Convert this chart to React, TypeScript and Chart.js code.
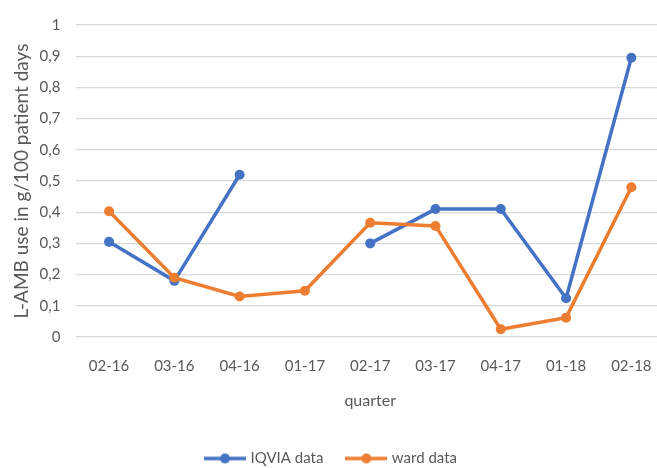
import { useEffect, useRef } from "react";
import Chart from "chart.js/auto";

const categories = ["02-16", "03-16", "04-16", "01-17", "02-17", "03-17", "04-17", "01-18", "02-18"];
const iqviaValues: (number | null)[] = [0.305, 0.18, 0.52, null, 0.30, 0.41, 0.41, 0.124, 0.895];
const wardValues: number[] = [0.403, 0.19, 0.13, 0.148, 0.366, 0.356, 0.025, 0.062, 0.48];
const yTickValues = [0, 0.1, 0.2, 0.3, 0.4, 0.5, 0.6, 0.7, 0.8, 0.9, 1];
const yTickLabels = ["0", "0,1", "0,2", "0,3", "0,4", "0,5", "0,6", "0,7", "0,8", "0,9", "1"];
const seriesNames = ["IQVIA data", "ward data"];

const BLUE = "#4472C4";
const ORANGE = "#ED7D31";
const TEXT = "#595959";
const GRID = "#d9d9d9";
const FONT = "Lato, 'Open Sans', sans-serif";

function makeIcon(color: string): HTMLCanvasElement {
  const c = document.createElement("canvas");
  c.width = 42;
  c.height = 12;
  const ctx = c.getContext("2d")!;
  ctx.strokeStyle = color;
  ctx.lineWidth = 3.5;
  ctx.beginPath();
  ctx.moveTo(0, 6);
  ctx.lineTo(42, 6);
  ctx.stroke();
  ctx.fillStyle = color;
  ctx.beginPath();
  ctx.arc(21, 6, 5, 0, Math.PI * 2);
  ctx.fill();
  return c;
}

export default function App() {
  const ref = useRef<HTMLCanvasElement>(null);

  useEffect(() => {
    if (!ref.current) return;
    const icons = [makeIcon(BLUE), makeIcon(ORANGE)];
    const chart = new Chart(ref.current, {
      type: "line",
      data: {
        labels: categories,
        datasets: [
          {
            label: seriesNames[0],
            data: iqviaValues,
            borderColor: BLUE,
            backgroundColor: BLUE,
            borderWidth: 3.5,
            pointRadius: 5,
            pointBorderWidth: 0,
            pointBackgroundColor: BLUE,
            spanGaps: false,
            tension: 0,
            order: 1,
          },
          {
            label: seriesNames[1],
            data: wardValues,
            borderColor: ORANGE,
            backgroundColor: ORANGE,
            borderWidth: 3.5,
            pointRadius: 5,
            pointBorderWidth: 0,
            pointBackgroundColor: ORANGE,
            tension: 0,
            order: 0,
          },
        ],
      },
      options: {
        animation: false,
        responsive: false,
        layout: { padding: { left: 0, right: 8, top: 22, bottom: 4 } },
        plugins: {
          tooltip: { enabled: false },
          legend: {
            position: "bottom",
            labels: {
              usePointStyle: true,
              pointStyleWidth: 36,
              padding: 25,
              color: TEXT,
              font: { family: FONT, size: 15 },
              generateLabels: () =>
                seriesNames.map((name, i) => ({
                  text: name,
                  pointStyle: icons[i] as any,
                  fillStyle: i === 0 ? BLUE : ORANGE,
                  strokeStyle: i === 0 ? BLUE : ORANGE,
                  lineWidth: 0,
                  hidden: false,
                  datasetIndex: i,
                  fontColor: TEXT,
                })),
            },
          },
        },
        scales: {
          x: {
            offset: true,
            grid: { display: false, drawTicks: false },
            border: { display: false },
            ticks: { color: TEXT, font: { family: FONT, size: 15 }, padding: 20, maxRotation: 0 },
            title: {
              display: true,
              text: "quarter",
              color: TEXT,
              font: { family: FONT, size: 16 },
              padding: { top: 4, bottom: 16 },
            },
            afterFit: (scale: any) => {
              scale.height = 89;
            },
          },
          y: {
            min: 0,
            max: 1,
            grid: { color: GRID, lineWidth: 1.3, drawTicks: false },
            border: { display: false },
            afterBuildTicks: (scale: any) => {
              scale.ticks = yTickValues.map((v) => ({ value: v }));
            },
            ticks: {
              color: TEXT,
              font: { family: FONT, size: 15 },
              padding: 16,
              callback: (value: any) => {
                const idx = yTickValues.findIndex((v) => Math.abs(v - Number(value)) < 1e-6);
                return idx >= 0 ? yTickLabels[idx] : "";
              },
            },
            title: {
              display: true,
              text: "L-AMB use in g/100 patient days",
              color: TEXT,
              font: { family: FONT, size: 19 },
              padding: { top: 10, bottom: 0 },
            },
            afterFit: (scale: any) => {
              scale.width = 76.4;
            },
          },
        },
      },
    });
    return () => chart.destroy();
  }, []);

  return (
    <div style={{ position: "fixed", left: 0, top: 0, width: 657, height: 468, overflow: "hidden", background: "#fff" }}>
      <canvas ref={ref} width={672} height={480} style={{ width: 672, height: 480, display: "block" }} />
    </div>
  );
}
